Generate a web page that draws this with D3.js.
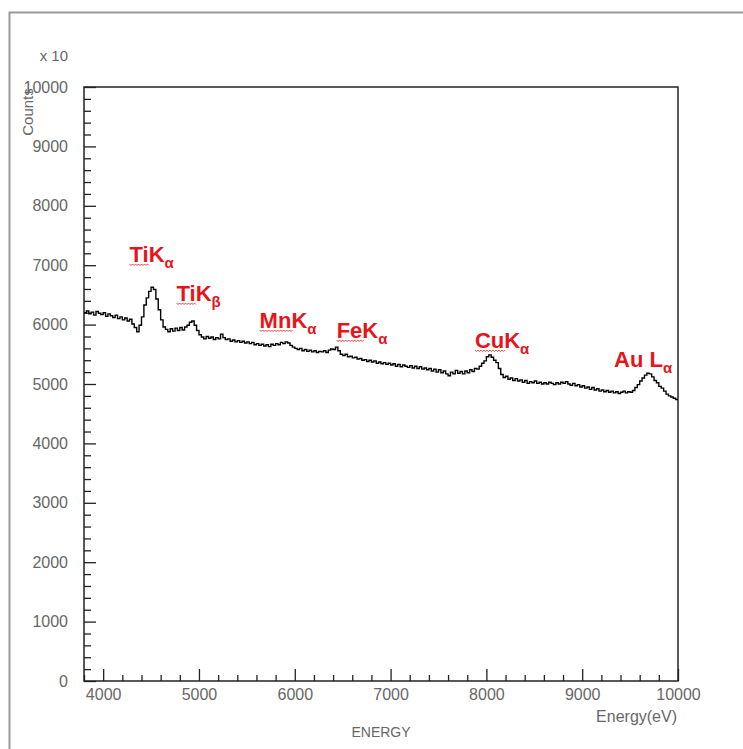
<!DOCTYPE html>
<html><head><meta charset="utf-8">
<script src="https://cdn.jsdelivr.net/npm/d3@7"></script>
<style>body{margin:0;background:#fff} svg{display:block}</style>
</head><body>
<svg id="c" width="743" height="749"></svg>
<script>
// ---- data ----
const binStart = 3800;   // eV, left edge of first bin
const binWidth = 25;     // eV
const counts = [
6200,6230,6180,6210,6160,6220,6190,6170,6200,6140,6180,6150,6120,6160,6100,6130,6080,6110,6060,6090,
6010,5950,5880,5990,6130,6330,6450,6560,6630,6590,6430,6250,6080,5960,5920,5880,5930,5890,5940,5900,
5950,5910,5960,5990,6040,6060,5990,5900,5830,5790,5760,5800,5770,5790,5750,5780,5760,5840,5780,5750,
5760,5720,5740,5710,5730,5700,5720,5690,5710,5680,5700,5660,5680,5650,5670,5640,5660,5630,5670,5650,
5680,5660,5700,5680,5710,5690,5650,5620,5600,5580,5600,5560,5580,5550,5570,5540,5560,5530,5550,5540,
5560,5530,5570,5590,5580,5620,5560,5500,5480,5500,5460,5470,5440,5450,5420,5430,5400,5410,5380,5400,
5370,5390,5350,5370,5340,5360,5330,5350,5320,5340,5300,5330,5290,5320,5300,5280,5310,5270,5300,5260,
5290,5250,5270,5240,5260,5220,5250,5200,5240,5190,5220,5170,5140,5200,5170,5230,5180,5210,5170,5220,
5190,5240,5210,5260,5250,5300,5350,5390,5460,5490,5450,5400,5360,5260,5160,5110,5130,5080,5100,5060,
5090,5050,5070,5030,5060,5010,5040,5020,5050,5010,5030,5000,5020,5000,5030,5010,4990,5020,5000,5030,
5010,5040,5000,4980,5010,4970,4990,4950,4970,4930,4950,4910,4940,4900,4920,4880,4900,4870,4890,4860,
4880,4850,4870,4840,4860,4880,4850,4870,4860,4890,4940,4990,5050,5100,5150,5180,5170,5120,5060,5020,
4960,4930,4880,4830,4800,4780,4760,4740
];
const xMajorTicks = [4000,5000,6000,7000,8000,9000,10000];
const xMinorTicks = [3800,4200,4400,4600,4800,5200,5400,5600,5800,6200,6400,6600,6800,7200,7400,7600,7800,8200,8400,8600,8800,9200,9400,9600,9800];
const yMajorTicks = [0,1000,2000,3000,4000,5000,6000,7000,8000,9000,10000];
const yMinorTicks = [200,400,600,800,1200,1400,1600,1800,2200,2400,2600,2800,3200,3400,3600,3800,4200,4400,4600,4800,5200,5400,5600,5800,6200,6400,6600,6800,7200,7400,7600,7800,8200,8400,8600,8800,9200,9400,9600,9800];
const peakBase = ["Ti","Ti","Mn","Fe","Cu","Au "];
const peakLine = ["K","K","K","K","K","L"];
const peakSub  = ["α","β","α","α","α","α"];
const peakE    = [4275,4766,5633,6437,7880,9333];
const peakC    = [7054,6397,5943,5774,5606,5286];
const squiggle = [true,true,true,true,true,false];

// ---- layout ----
const svg = d3.select("#c");
const L = 84, R = 678, T = 87, B = 681;
const x = d3.scaleLinear().domain([3800,10000]).range([L,R]);
const y = d3.scaleLinear().domain([0,10000]).range([B,T]);
const font = "'Liberation Sans', Arial, Helvetica, sans-serif";
const gray = "#676767";

// outer frame
svg.append("rect").attr("x",9.5).attr("y",12.5).attr("width",900).attr("height",900)
  .attr("fill","none").attr("stroke","#9a9a9a").attr("stroke-width",2);

// axes
const yAx = svg.append("g").attr("transform",`translate(${L},0)`)
  .call(d3.axisLeft(y).tickValues(yMajorTicks).tickSize(-12).tickSizeOuter(0).tickPadding(16).tickFormat(d3.format("d")));
const yAxMin = svg.append("g").attr("transform",`translate(${L},0)`)
  .call(d3.axisLeft(y).tickValues(yMinorTicks).tickSize(-7).tickSizeOuter(0).tickFormat(""));
const xAx = svg.append("g").attr("transform",`translate(0,${B})`)
  .call(d3.axisBottom(x).tickValues(xMajorTicks).tickSize(-12).tickSizeOuter(0).tickPadding(8).tickFormat(d3.format("d")));
const xAxMin = svg.append("g").attr("transform",`translate(0,${B})`)
  .call(d3.axisBottom(x).tickValues(xMinorTicks).tickSize(-6).tickSizeOuter(0).tickFormat(""));
[yAx,yAxMin,xAx,xAxMin].forEach(g=>{
  g.select(".domain").remove();
  g.selectAll(".tick line").attr("stroke","#222").attr("stroke-width",1.3);
  g.selectAll(".tick text").attr("fill",gray).style("font-family",font).style("font-size","16px");
});

// plot box
svg.append("rect").attr("x",L).attr("y",T).attr("width",R-L).attr("height",B-T)
  .attr("fill","none").attr("stroke","#222").attr("stroke-width",1.5);

// histogram line
const pts = counts.map((c,i)=>[binStart+i*binWidth,c]);
pts.push([binStart+counts.length*binWidth,counts[counts.length-1]]);
svg.append("path").datum(pts)
  .attr("d",d3.line().x(d=>x(d[0])).y(d=>y(d[1])).curve(d3.curveStepAfter))
  .attr("fill","none").attr("stroke","#000").attr("stroke-width",1.4).attr("stroke-linejoin","miter");

// axis texts
svg.append("text").attr("x",68).attr("y",61).attr("text-anchor","end")
  .attr("fill",gray).style("font-family",font).style("font-size","15px").text("x 10");
svg.append("text").attr("transform","translate(33,112) rotate(-90)").attr("text-anchor","middle")
  .attr("fill",gray).style("font-family",font).style("font-size","15px").text("Counts");
svg.append("text").attr("x",381).attr("y",737).attr("text-anchor","middle")
  .attr("fill",gray).style("font-family",font).style("font-size","14px").text("ENERGY");
svg.append("text").attr("x",677).attr("y",722).attr("text-anchor","end")
  .attr("fill",gray).style("font-family",font).style("font-size","16px").text("Energy(eV)");

// peak labels
peakBase.forEach((b,i)=>{
  const px = x(peakE[i]), py = y(peakC[i]);
  const t = svg.append("text").attr("x",px).attr("y",py)
    .attr("fill","#e8141a").style("font-family",font).style("font-weight","bold").style("font-size","22px");
  const tb = t.append("tspan").text(b);
  t.append("tspan").text(peakLine[i]);
  t.append("tspan").attr("dy",6).style("font-size","15px").text(peakSub[i]);
  if (squiggle[i]) {
    const w = tb.node().getComputedTextLength();
    let d = `M${px},${py+2}`;
    for (let k=0, xx=px; xx < px+w; k++) { xx += 1.5; d += `L${xx},${py+2+(k%2?0:1.5)}`; }
    svg.append("path").attr("d",d).attr("fill","none").attr("stroke","#e8141a").attr("stroke-width",0.8);
  }
});
</script>
</body></html>
